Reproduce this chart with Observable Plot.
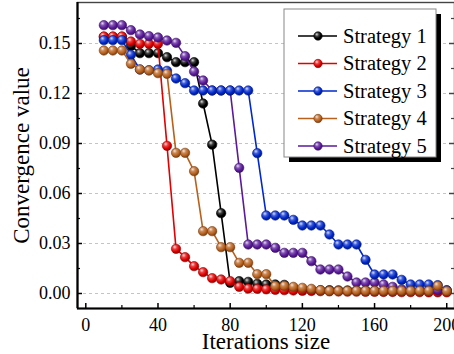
<!DOCTYPE html>
<html><head><meta charset="utf-8">
<script src="https://cdn.jsdelivr.net/npm/d3@7"></script>
<script src="https://cdn.jsdelivr.net/npm/@observablehq/plot@0.6"></script>
<style>body{margin:0;background:#fff} svg{display:block}</style>
</head><body><div id="chart"></div>
<script>
const iterations = [10,15,20,25,30,35,40,45,50,55,60,65,70,75,80,85,90,95,100,105,110,115,120,125,130,135,140,145,150,155,160,165,170,175,180,185,190,195,200];

const strategy1 = [0.154,0.154,0.154,0.1486,0.1442,0.1442,0.1442,0.1418,0.1388,0.1388,0.1388,0.114,0.0893,0.0482,0.0064,0.0074,0.0070,0.0058,0.0054,0.0054,0.0052,0.0034,0.0025,0.0022,0.002,0.002,0.0019,0.0018,0.0018,0.0017,0.0016,0.0016,0.0015,0.0015,0.0014,0.0014,0.0014,0.0014,0.0014];
const strategy2 = [0.1542,0.1542,0.1542,0.1512,0.1498,0.1498,0.1498,0.0886,0.0268,0.0218,0.0164,0.0128,0.0092,0.0084,0.0074,0.0040,0.0029,0.0028,0.0025,0.0022,0.002,0.0018,0.0016,0.0015,0.0014,0.0013,0.0012,0.0011,0.0011,0.001,0.001,0.0009,0.0009,0.0008,0.0008,0.0008,0.0007,0.0007,0.0007];
const strategy3 = [0.152,0.152,0.152,0.1432,0.1344,0.134,0.1344,0.1336,0.129,0.1262,0.1218,0.1218,0.1218,0.1218,0.1218,0.1218,0.1218,0.0842,0.0468,0.0468,0.0468,0.0442,0.0408,0.0408,0.0408,0.0354,0.0294,0.0294,0.0294,0.0202,0.0114,0.0114,0.0114,0.0082,0.0054,0.0054,0.0054,0.005,0.0018];
const strategy4 = [0.1458,0.1458,0.1458,0.1378,0.1344,0.1338,0.1322,0.1318,0.0844,0.0844,0.0734,0.0374,0.0374,0.0278,0.0278,0.0184,0.0184,0.0116,0.0116,0.0044,0.0046,0.004,0.0034,0.0028,0.002,0.0016,0.0016,0.0016,0.0016,0.0016,0.0016,0.0016,0.0016,0.0016,0.0016,0.0016,0.0016,0.0046,0.0014];
const strategy5 = [0.161,0.161,0.161,0.158,0.1554,0.1544,0.1536,0.1518,0.1504,0.1424,0.1332,0.1278,0.1218,0.1218,0.1218,0.0754,0.0294,0.0294,0.0294,0.0274,0.0244,0.0244,0.0244,0.0194,0.0144,0.0144,0.0144,0.0102,0.0066,0.0066,0.0066,0.0054,0.004,0.0025,0.002,0.002,0.002,0.002,0.002];

const seriesNames = ["Strategy 1","Strategy 2","Strategy 3","Strategy 4","Strategy 5"];
const seriesColors = ["#000000","#e20000","#0028cc","#b8601c","#5a1a9a"];
const seriesEdge = ["#000000","#9a0000","#001a88","#7a3e10","#3a0e68"];
const drawOrder = [0,1,4,2,3];

const xTicks = [0,40,80,120,160,200];
const xMinor = [20,60,100,140,180];
const yTicks = [0,0.03,0.06,0.09,0.12,0.15];
const yMinor = [0.015,0.045,0.075,0.105,0.135,0.165];

const allSeries = [strategy1,strategy2,strategy3,strategy4,strategy5];
const data = allSeries.flatMap((vals,i)=>vals.map((v,j)=>({it:iterations[j], v, s:i})));

const W=454, H=354, mL=77, mR=0, mT=2, mB=46;
const FW=W-mL-mR, FH=H-mT-mB;
const xDomain=[-4.6,204.3], yDomain=[-0.009,0.1746];

const seriesMarks = drawOrder.flatMap(i=>{
  const d = data.filter(p=>p.s===i);
  return [
    Plot.line(d,{x:"it",y:"v",stroke:seriesColors[i],strokeWidth:1.6}),
    Plot.dot(d,{x:"it",y:"v",r:4.7,fill:`url(#grad${i})`,stroke:seriesEdge[i],strokeWidth:0.6})
  ];
});

const svg = Plot.plot({
  width:W, height:H, marginLeft:mL, marginRight:mR, marginTop:mT, marginBottom:mB,
  style:{fontFamily:"'Liberation Serif','Times New Roman',serif", color:"#000", background:"#fff", overflow:"visible"},
  x:{domain:xDomain, label:null},
  y:{domain:yDomain, label:null},
  marks:[
    Plot.gridY(yTicks,{stroke:"#c4c4c4",strokeOpacity:1,strokeDasharray:"3,3",strokeWidth:1}),
    Plot.frame({stroke:"#444",strokeWidth:1.4}),
    Plot.tickY(yTicks,{y:d=>d,insetRight:FW-5,stroke:"#000",strokeWidth:1.5}),
    Plot.tickY(yMinor,{y:d=>d,insetRight:FW-3,stroke:"#000",strokeWidth:1.2}),
    Plot.tickY(yTicks,{y:d=>d,insetLeft:FW-5,stroke:"#444",strokeWidth:1.5}),
    Plot.tickY(yMinor,{y:d=>d,insetLeft:FW-3,stroke:"#444",strokeWidth:1.2}),
    Plot.tickX(xTicks,{x:d=>d,insetTop:FH-5,stroke:"#000",strokeWidth:1.5}),
    Plot.tickX(xMinor,{x:d=>d,insetTop:FH-3,stroke:"#000",strokeWidth:1.2}),
    Plot.ruleX([xDomain[0]],{stroke:"#000",strokeWidth:2.2}),
    Plot.ruleY([yDomain[0]],{stroke:"#000",strokeWidth:2.2}),
    ...seriesMarks,
    Plot.axisY(yTicks,{tickSize:0,tickPadding:7,tickFormat:d3.format(".2f"),fontSize:18,label:null}),
    Plot.axisX(xTicks,{tickSize:0,tickPadding:10,fontSize:18,label:null}),
    Plot.text(["Iterations size"],{text:d=>d,frameAnchor:"bottom",textAnchor:"middle",lineAnchor:"middle",dy:33,fontSize:23}),
    Plot.text(["Convergence value"],{text:d=>d,frameAnchor:"left",textAnchor:"middle",lineAnchor:"middle",rotate:-90,dx:-56,dy:0,fontSize:23})
  ]
});

// gradient defs for the shaded spheres
const sel = d3.select(svg);
const defs = sel.insert("defs",":first-child");
seriesColors.forEach((c,i)=>{
  const g = defs.append("radialGradient").attr("id",`grad${i}`).attr("cx","40%").attr("cy","35%").attr("r","65%").attr("fx","35%").attr("fy","30%");
  g.append("stop").attr("offset","0%").attr("stop-color",d3.interpolateRgb(c,"#fff")(0.85));
  g.append("stop").attr("offset","35%").attr("stop-color",d3.interpolateRgb(c,"#fff")(0.25));
  g.append("stop").attr("offset","70%").attr("stop-color",c);
  g.append("stop").attr("offset","100%").attr("stop-color",d3.interpolateRgb(c,"#000")(0.35));
});

// legend
const lg = sel.append("g").attr("font-family","'Liberation Serif','Times New Roman',serif").attr("text-anchor","start");
const bx=284, by=9, bw=152, bh=148;
lg.append("rect").attr("x",bx+5).attr("y",by+5).attr("width",bw).attr("height",bh).attr("fill","#000");
lg.append("rect").attr("x",bx).attr("y",by).attr("width",bw).attr("height",bh).attr("fill","#fff").attr("stroke","#888").attr("stroke-width",1);
const rowY=[36,63.5,91,118.5,146];
seriesNames.forEach((n,i)=>{
  const y=rowY[i];
  lg.append("line").attr("x1",298).attr("x2",337).attr("y1",y).attr("y2",y).attr("stroke",seriesColors[i]).attr("stroke-width",1.6);
  lg.append("circle").attr("cx",318).attr("cy",y).attr("r",4.2).attr("fill",`url(#grad${i})`).attr("stroke",seriesEdge[i]).attr("stroke-width",0.6);
  lg.append("text").attr("x",343).attr("y",y).attr("dy","0.34em").attr("text-anchor","start").attr("font-size",20.5).attr("fill","#000").text(n);
});

document.getElementById("chart").appendChild(svg);
</script></body></html>
